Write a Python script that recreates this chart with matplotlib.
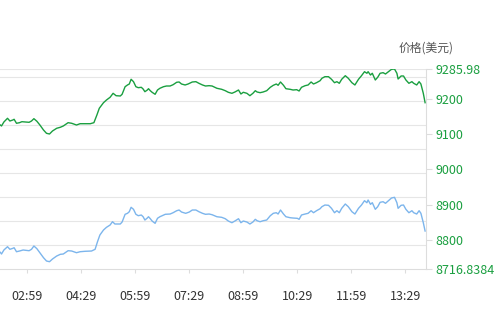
"""价格走势图"""
import numpy as np
from matplotlib import pyplot as plt

plt.rcParams['font.family'] = ['Noto Sans CJK SC', 'DejaVu Sans']

# 时间（分钟，从 00:00 起算）
green_t = [134, 136, 140, 146, 150, 155, 157, 161, 166, 170, 175, 182, 186, 190, 195,
           200, 206, 211, 216, 221, 228, 234, 239, 247, 253, 261, 267, 275, 284, 290,
           295, 299, 306, 311, 317, 322, 327, 334, 337, 342, 346, 349, 352, 356, 360,
           364, 369, 372, 375, 379, 381, 384, 387, 392, 396, 400, 406, 411, 417, 422,
           428, 432, 436, 442, 447, 454, 460, 465, 471, 476, 482, 487, 495, 503, 509,
           514, 520, 525, 531, 535, 539, 545, 550, 555, 559, 562, 567, 572, 578, 584,
           589, 594, 597, 601, 606, 610, 617, 622, 628, 632, 636, 642, 647, 652, 656,
           661, 667, 670, 675, 681, 686, 691, 695, 699, 703, 709, 714, 720, 725, 731,
           736, 741, 745, 747, 751, 754, 759, 763, 767, 772, 776, 781, 786, 791, 795,
           797, 802, 806, 810, 815, 820, 823, 828, 832, 835, 839, 842]
green_price = [9126.6, 9123.8, 9135.2, 9145.7, 9138.0, 9140.9, 9142.9, 9131.5, 9133.2, 9136.0,
               9135.2, 9134.3, 9138.0, 9144.6, 9137.2, 9126.6, 9112.4, 9103.0, 9101.0, 9109.6,
               9117.3, 9120.1, 9123.8, 9133.2, 9131.5, 9126.6, 9130.3, 9130.3, 9130.3, 9133.2,
               9155.1, 9174.2, 9190.1, 9197.8, 9205.5, 9216.8, 9210.0, 9209.2, 9214.0, 9235.6,
               9240.5, 9243.3, 9256.7, 9249.9, 9235.6, 9232.8, 9233.9, 9229.1, 9221.4, 9226.2,
               9229.9, 9224.2, 9219.7, 9214.0, 9226.2, 9231.1, 9235.6, 9237.6, 9237.6, 9241.3,
               9248.2, 9249.0, 9243.3, 9240.5, 9243.3, 9249.0, 9249.9, 9245.3, 9240.5, 9237.6,
               9238.5, 9237.6, 9231.1, 9228.2, 9224.2, 9219.7, 9216.8, 9220.5, 9226.2, 9214.9,
               9219.7, 9216.8, 9210.0, 9216.8, 9224.2, 9220.5, 9218.6, 9220.5, 9224.2, 9233.9,
               9239.6, 9243.3, 9239.6, 9249.0, 9239.6, 9229.9, 9228.2, 9226.2, 9227.1, 9223.4,
               9233.9, 9238.5, 9240.5, 9249.0, 9243.3, 9247.0, 9252.7, 9259.5, 9264.1, 9264.1,
               9256.7, 9247.0, 9249.9, 9245.3, 9256.7, 9266.9, 9259.5, 9247.0, 9240.5, 9256.7,
               9266.9, 9278.3, 9273.8, 9278.3, 9268.9, 9273.8, 9254.7, 9262.4, 9273.8, 9275.5,
               9271.8, 9278.3, 9285.1, 9285.98, 9273.8, 9257.5, 9266.1, 9266.1, 9254.7, 9245.3,
               9249.9, 9245.3, 9240.5, 9249.9, 9243.3, 9216.8, 9190.1]

blue_t = [134, 136, 140, 146, 150, 155, 157, 161, 166, 172, 182, 186, 190, 195, 200,
          206, 211, 216, 221, 228, 234, 239, 247, 253, 261, 267, 275, 286, 292, 296,
          300, 306, 311, 317, 321, 325, 334, 337, 342, 346, 349, 352, 356, 360, 364,
          369, 372, 375, 379, 381, 384, 387, 392, 396, 400, 409, 417, 422, 428, 432,
          436, 443, 449, 454, 460, 465, 471, 476, 482, 487, 495, 503, 509, 514, 520,
          525, 531, 535, 539, 545, 550, 555, 559, 562, 567, 572, 578, 584, 589, 594,
          597, 601, 606, 610, 617, 622, 629, 632, 636, 642, 647, 652, 656, 661, 667,
          670, 675, 681, 686, 691, 695, 699, 703, 709, 714, 720, 725, 731, 736, 741,
          745, 747, 751, 754, 759, 763, 767, 772, 776, 781, 786, 791, 795, 797, 802,
          806, 810, 815, 820, 823, 828, 832, 835, 839, 842]
blue_price = [8764.3, 8759.5, 8770.9, 8780.3, 8772.9, 8775.7, 8777.4, 8766.0, 8768.0, 8770.9,
              8768.9, 8772.9, 8782.3, 8774.6, 8763.2, 8749.0, 8739.6, 8737.6, 8745.3, 8753.8,
              8758.6, 8759.5, 8768.9, 8768.0, 8763.2, 8766.0, 8767.2, 8768.0, 8772.9, 8794.5,
              8813.6, 8827.8, 8835.5, 8842.0, 8851.4, 8844.9, 8844.9, 8850.5, 8872.5, 8875.3,
              8879.9, 8892.4, 8886.7, 8872.5, 8868.5, 8870.5, 8865.6, 8856.2, 8861.9, 8865.6,
              8859.9, 8853.4, 8846.8, 8861.1, 8865.6, 8872.5, 8873.3, 8877.0, 8882.7, 8884.7,
              8879.0, 8875.3, 8879.0, 8884.7, 8884.7, 8879.9, 8875.3, 8872.5, 8873.3, 8871.3,
              8865.6, 8863.9, 8859.9, 8853.4, 8848.6, 8853.4, 8859.9, 8848.6, 8853.4, 8850.5,
              8844.9, 8850.5, 8858.2, 8854.2, 8851.4, 8854.2, 8856.2, 8868.5, 8875.3, 8877.0,
              8873.3, 8884.7, 8873.3, 8865.6, 8862.8, 8861.9, 8861.1, 8858.2, 8870.5, 8873.3,
              8875.3, 8882.7, 8877.0, 8882.7, 8888.4, 8894.1, 8898.9, 8898.1, 8889.5, 8877.0,
              8882.7, 8877.0, 8889.5, 8901.8, 8894.1, 8879.9, 8873.3, 8889.5, 8898.9, 8911.2,
              8905.5, 8913.2, 8900.9, 8905.5, 8886.7, 8894.1, 8906.6, 8908.3, 8903.8, 8911.2,
              8918.8, 8920.8, 8905.5, 8889.5, 8898.1, 8898.9, 8886.7, 8877.0, 8882.7, 8877.0,
              8873.3, 8882.7, 8875.3, 8848.6, 8824.9]

x_labels = ['02:59', '04:29', '05:59', '07:29', '08:59', '10:29', '11:59', '13:29']
y_ticks = [8716.8384, 8800, 8900, 9000, 9100, 9200, 9285.98]
y_labels = ['8716.8384', '8800', '8900', '9000', '9100', '9200', '9285.98']

x_ticks = [int(s[:2]) * 60 + int(s[3:]) for s in x_labels]
y_min, y_max = y_ticks[0], y_ticks[-1]

fig = plt.figure(figsize=(5, 3.11), dpi=100)
ax = fig.add_axes([0, 1 - 269 / 311, 426 / 500, 200 / 311])

# 横向网格线
step = (y_max - y_min) * 0.12
for k in range(1, 9):
    ax.axhline(y_min + k * step, color='#e6e6e6', lw=0.8, zorder=0)
ax.axhline(y_max, color='#e6e6e6', lw=0.8, zorder=0)

ax.plot(green_t, green_price, color='#1a9f40', lw=1.0)
ax.plot(blue_t, blue_price, color='#7cb5ec', lw=1.0)

ax.set_xlim(133.5, 843.5)
ax.set_ylim(y_min, y_max)

ax.set_xticks(x_ticks)
ax.set_xticklabels(x_labels)
ax.yaxis.tick_right()
ax.set_yticks(y_ticks)
ax.set_yticklabels(y_labels)

for s in ['left', 'top']:
    ax.spines[s].set_visible(False)
for s in ['bottom', 'right']:
    ax.spines[s].set_color('#dddddd')
    ax.spines[s].set_linewidth(0.8)

ax.tick_params(axis='x', length=3, width=0.8, color='#dddddd', labelsize=9,
               labelcolor='#333333', pad=12)
ax.tick_params(axis='y', length=4.5, width=0.8, color='#dddddd', labelsize=9,
               labelcolor='#1a9f40', pad=2.5)

fig.text(426.5 / 500, 1 - 48 / 311, '价格(美元)', ha='center', va='center',
         fontsize=8.5, color='#555555')

plt.savefig('out.png', dpi=100)
